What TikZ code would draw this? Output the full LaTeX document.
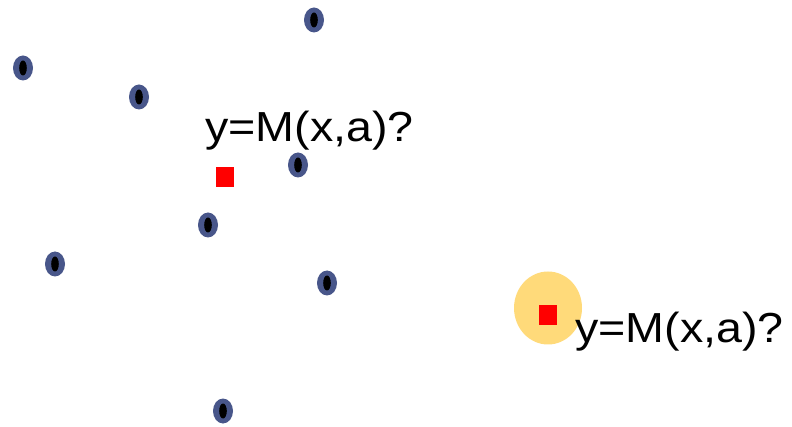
\documentclass[tikz,border=0pt]{standalone}
\usepackage{fontspec}
\setmainfont{Liberation Sans}
\usetikzlibrary{shapes.geometric}
\definecolor{dotblue}{RGB}{72,86,138}
\definecolor{haloyellow}{RGB}{255,218,122}
\definecolor{qred}{RGB}{255,0,0}
\tikzset{
  sample/.style={ellipse, fill=dotblue, minimum width=20pt, minimum height=25pt, inner sep=0pt,
    path picture={\fill[black] (path picture bounding box.center) ellipse [x radius=3.8pt, y radius=7.5pt];}},
  query/.style={rectangle, fill=qred, minimum width=18pt, minimum height=20pt, inner sep=0pt},
  halo/.style={ellipse, fill=haloyellow, minimum width=68pt, minimum height=73pt, inner sep=0pt},
  question/.style={anchor=base west, inner sep=0pt, font=\fontsize{42}{46}\selectfont, xscale=1.11}
}
\begin{document}
\begin{tikzpicture}[x=1pt, y=-1pt]
  \useasboundingbox (0,0) rectangle (792,427);
  % known samples
  \node[sample] (s1) at (314,20) {};
  \node[sample] (s2) at (23,68) {};
  \node[sample] (s3) at (139,97) {};
  \node[sample] (s4) at (298,165) {};
  \node[sample] (s5) at (208,225) {};
  \node[sample] (s6) at (55,264) {};
  \node[sample] (s7) at (327,283) {};
  \node[sample] (s8) at (223,411) {};
  % first query point
  \node[query] (q1) at (225,177) {};
  \node[question] (t1) at (205,142) {y=M(x,a)?};
  % second query point with its neighbourhood
  \node[halo] (h2) at (548,308) {};
  \node[query] (q2) at (548,315) {};
  \node[question] (t2) at (575,342) {y=M(x,a)?};
\end{tikzpicture}
\end{document}
